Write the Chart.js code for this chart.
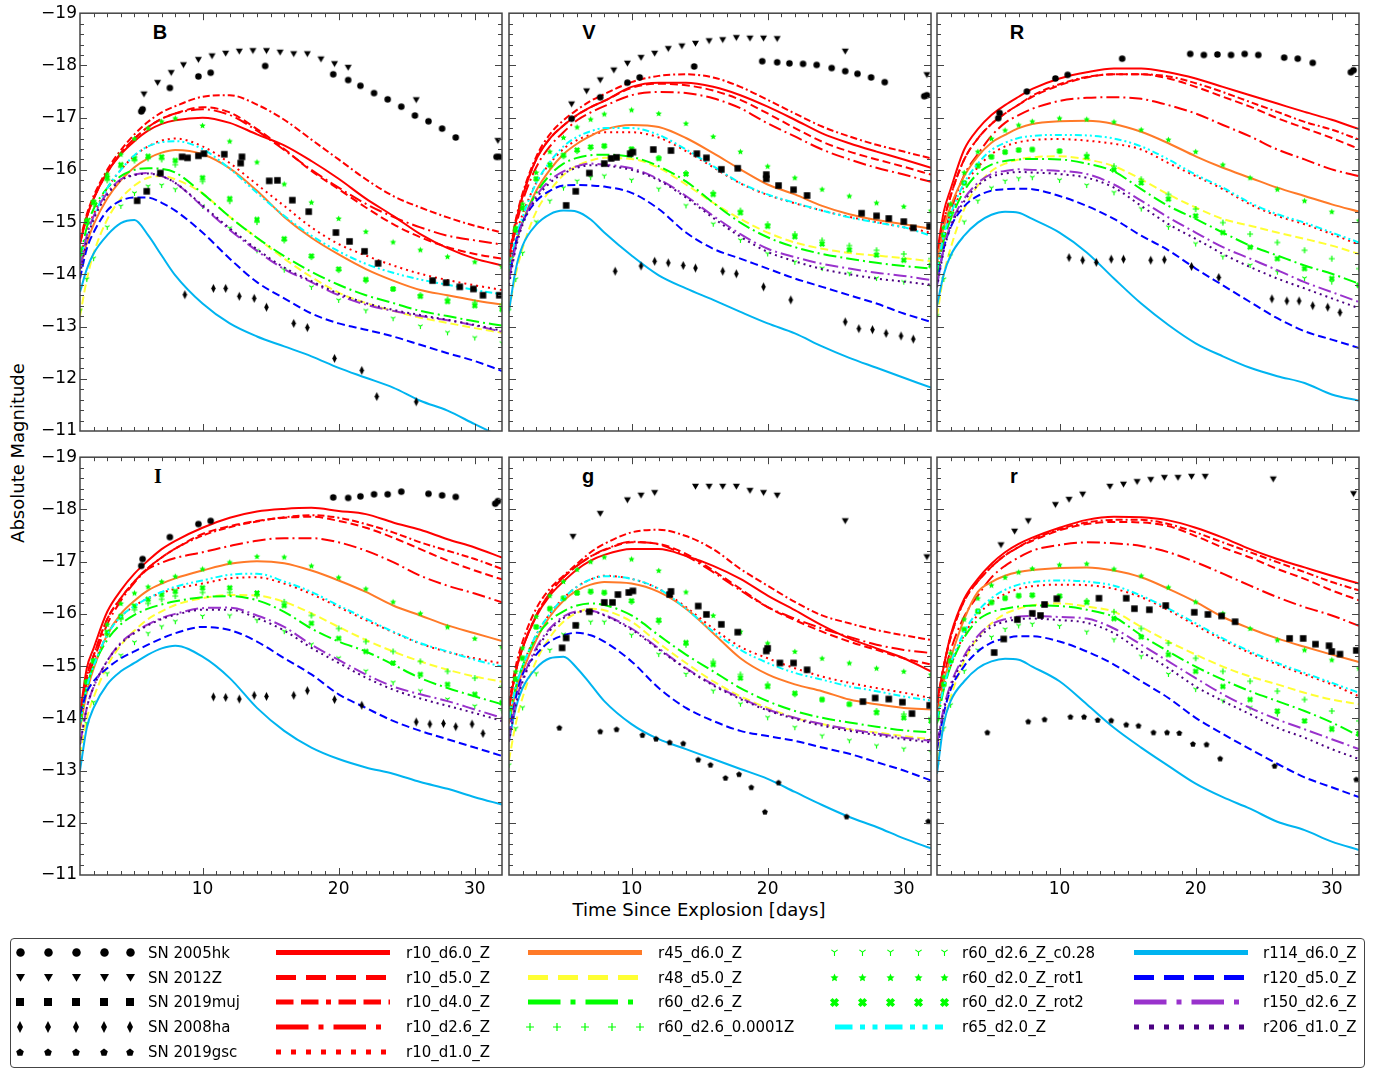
<!DOCTYPE html>
<html>
<head>
<meta charset="utf-8">
<script src="https://cdn.jsdelivr.net/npm/chart.js@4.4.1/dist/chart.umd.min.js"></script>
<style>
  html, body { margin: 0; padding: 0; background: #fff; }
  body { width: 1389px; height: 1072px; position: relative; overflow: hidden; font-family: "DejaVu Sans", sans-serif; color: #000; }
  canvas.panel { position: absolute; }
  .band { position: absolute; font: bold 20px "Liberation Sans", Arial, sans-serif; line-height: 20px; transform: translateX(-50%); }
  .band.serif { font-family: "Liberation Serif", "Times New Roman", serif; }
  .ytitle { position: absolute; left: 18px; top: 453px; font-size: 18px; line-height: 18px; white-space: nowrap; transform: translate(-50%, -50%) rotate(-90deg); }
  .xtitle { position: absolute; left: 699px; top: 901px; font-size: 18px; line-height: 18px; white-space: nowrap; transform: translateX(-50%); }
  .legbox { position: absolute; left: 10px; top: 938px; width: 1353px; height: 128px; border: 1.5px solid #444; border-radius: 4px; }
  .lg { position: absolute; font-size: 15px; line-height: 18px; white-space: nowrap; }
  #legendCanvas { position: absolute; left: 0; top: 930px; }
</style>
</head>
<body>

<div class="band" style="left:160px;top:22px">B</div>
<div class="band" style="left:589px;top:22px">V</div>
<div class="band" style="left:1017px;top:22px">R</div>
<div class="band serif" style="left:158px;top:466px">I</div>
<div class="band" style="left:588px;top:466px">g</div>
<div class="band" style="left:1014px;top:466px">r</div>
<div class="ytitle">Absolute Magnitude</div>
<div class="xtitle">Time Since Explosion [days]</div>
<div class="legbox"></div>
<canvas id="legendCanvas" width="1389" height="142"></canvas>

<script>
// Model epochs (days since explosion) shared by every model light curve
const days = [1, 1.5, 2, 3, 4, 5, 6, 7, 8, 10, 12, 14, 16, 18, 20, 22, 24, 26, 28, 30, 32];

const modelNames = [
  'r10_d6.0_Z', 'r10_d5.0_Z', 'r10_d4.0_Z', 'r10_d2.6_Z', 'r10_d1.0_Z',
  'r45_d6.0_Z', 'r48_d5.0_Z', 'r60_d2.6_Z', 'r60_d2.6_0.0001Z',
  'r60_d2.6_Z_c0.28', 'r60_d2.0_Z_rot1', 'r60_d2.0_Z_rot2', 'r65_d2.0_Z',
  'r114_d6.0_Z', 'r120_d5.0_Z', 'r150_d2.6_Z', 'r206_d1.0_Z'
];

// Absolute magnitudes of each model (rows follow modelNames, columns follow days)
const magB = [
  [-14.6,-15.1,-15.45,-15.95,-16.3,-16.55,-16.75,-16.88,-16.95,-17.0,-16.9,-16.68,-16.47,-16.17,-15.83,-15.45,-15.12,-14.77,-14.5,-14.3,-14.17],
  [-14.6,-15.1,-15.45,-15.95,-16.32,-16.6,-16.82,-16.98,-17.08,-17.2,-17.1,-16.78,-16.4,-15.98,-15.63,-15.28,-14.96,-14.71,-14.52,-14.39,-14.3],
  [-14.65,-15.15,-15.5,-16.0,-16.38,-16.68,-16.92,-17.1,-17.22,-17.4,-17.43,-17.25,-16.96,-16.58,-16.2,-15.82,-15.5,-15.28,-15.09,-14.93,-14.8],
  [-14.6,-15.1,-15.45,-15.95,-16.32,-16.6,-16.82,-16.98,-17.08,-17.16,-17.05,-16.75,-16.38,-16.0,-15.66,-15.35,-15.1,-14.9,-14.74,-14.65,-14.57],
  [-14.3,-14.8,-15.15,-15.65,-16.0,-16.27,-16.45,-16.56,-16.6,-16.45,-16.13,-15.72,-15.31,-14.9,-14.58,-14.36,-14.17,-14.01,-13.89,-13.79,-13.7],
  [-14.1,-14.6,-14.95,-15.45,-15.8,-16.05,-16.22,-16.33,-16.38,-16.3,-16.03,-15.6,-15.1,-14.7,-14.38,-14.1,-13.88,-13.7,-13.6,-13.5,-13.42],
  [-13.2,-13.9,-14.4,-15.05,-15.45,-15.7,-15.85,-15.88,-15.82,-15.55,-15.1,-14.7,-14.3,-13.95,-13.65,-13.45,-13.3,-13.17,-13.07,-12.97,-12.88],
  [-14.3,-14.9,-15.25,-15.65,-15.88,-16.0,-16.03,-16.02,-15.95,-15.55,-15.1,-14.7,-14.35,-14.05,-13.8,-13.6,-13.45,-13.3,-13.2,-13.1,-13.02],
  [-14.4,-15.0,-15.35,-15.8,-16.05,-16.18,-16.22,-16.2,-16.1,-15.78,-15.4,-15.0,-14.65,-14.33,-14.08,-13.88,-13.72,-13.6,-13.52,-13.46,-13.42],
  [-13.3,-13.9,-14.3,-14.9,-15.3,-15.55,-15.68,-15.7,-15.62,-15.3,-14.88,-14.45,-14.08,-13.75,-13.5,-13.3,-13.15,-13.0,-12.88,-12.78,-12.68],
  [-14.5,-15.05,-15.4,-15.92,-16.3,-16.6,-16.8,-16.93,-16.99,-16.85,-16.55,-16.15,-15.73,-15.38,-15.07,-14.82,-14.62,-14.47,-14.34,-14.24,-14.15],
  [-14.4,-15.0,-15.38,-15.85,-16.1,-16.22,-16.26,-16.25,-16.18,-15.85,-15.45,-15.05,-14.68,-14.35,-14.1,-13.9,-13.72,-13.58,-13.48,-13.4,-13.33],
  [-14.2,-14.75,-15.1,-15.65,-16.0,-16.28,-16.45,-16.53,-16.55,-16.4,-16.02,-15.56,-15.12,-14.74,-14.44,-14.2,-14.03,-13.9,-13.8,-13.7,-13.62],
  [-13.66,-14.1,-14.4,-14.75,-14.98,-15.04,-14.75,-14.36,-13.98,-13.44,-13.06,-12.81,-12.62,-12.43,-12.21,-12.02,-11.83,-11.58,-11.39,-11.13,-10.88],
  [-13.92,-14.49,-14.8,-15.22,-15.41,-15.47,-15.47,-15.37,-15.22,-14.8,-14.3,-13.85,-13.54,-13.25,-13.06,-12.94,-12.81,-12.65,-12.49,-12.34,-12.15],
  [-14.1,-14.74,-15.11,-15.56,-15.82,-15.91,-15.94,-15.88,-15.75,-15.3,-14.85,-14.45,-14.1,-13.85,-13.6,-13.42,-13.3,-13.2,-13.12,-13.02,-12.9],
  [-14.0,-14.65,-15.05,-15.52,-15.8,-15.9,-15.93,-15.88,-15.75,-15.32,-14.88,-14.48,-14.13,-13.87,-13.63,-13.45,-13.32,-13.22,-13.13,-13.03,-12.92]
];

const magV = [
  [-14.3,-15.0,-15.5,-16.2,-16.6,-16.85,-17.05,-17.2,-17.32,-17.59,-17.67,-17.67,-17.59,-17.43,-17.21,-16.96,-16.7,-16.51,-16.35,-16.2,-16.04],
  [-14.3,-15.0,-15.5,-16.2,-16.6,-16.85,-17.05,-17.2,-17.32,-17.57,-17.65,-17.62,-17.52,-17.34,-17.08,-16.8,-16.54,-16.35,-16.2,-16.06,-15.91],
  [-14.35,-15.05,-15.55,-16.25,-16.68,-16.95,-17.15,-17.32,-17.45,-17.68,-17.8,-17.83,-17.77,-17.59,-17.34,-17.08,-16.83,-16.64,-16.48,-16.35,-16.22],
  [-14.2,-14.9,-15.4,-16.05,-16.45,-16.72,-16.95,-17.1,-17.22,-17.43,-17.49,-17.47,-17.37,-17.18,-16.89,-16.64,-16.39,-16.2,-16.04,-15.91,-15.77],
  [-14.2,-14.75,-15.15,-15.75,-16.12,-16.4,-16.57,-16.67,-16.72,-16.72,-16.62,-16.36,-16.05,-15.74,-15.52,-15.36,-15.22,-15.1,-15.0,-14.9,-14.8],
  [-14.0,-14.6,-15.0,-15.6,-16.0,-16.3,-16.5,-16.65,-16.77,-16.86,-16.82,-16.61,-16.32,-16.01,-15.72,-15.53,-15.31,-15.15,-15.04,-14.96,-14.87],
  [-13.3,-14.0,-14.5,-15.2,-15.6,-15.9,-16.08,-16.18,-16.23,-16.21,-16.04,-15.72,-15.37,-15.06,-14.8,-14.61,-14.49,-14.41,-14.36,-14.31,-14.25],
  [-14.0,-14.6,-15.0,-15.55,-15.9,-16.12,-16.23,-16.28,-16.29,-16.25,-16.07,-15.78,-15.37,-14.99,-14.71,-14.52,-14.39,-14.3,-14.22,-14.16,-14.11],
  [-14.2,-14.85,-15.25,-15.82,-16.07,-16.26,-16.36,-16.42,-16.45,-16.39,-16.23,-15.94,-15.56,-15.22,-14.96,-14.77,-14.65,-14.55,-14.46,-14.39,-14.3],
  [-13.3,-13.9,-14.4,-15.0,-15.4,-15.65,-15.78,-15.85,-15.88,-15.8,-15.63,-15.31,-14.96,-14.65,-14.39,-14.23,-14.11,-14.01,-13.92,-13.85,-13.76],
  [-14.3,-14.9,-15.35,-15.95,-16.35,-16.62,-16.82,-16.97,-17.07,-17.15,-17.08,-16.89,-16.64,-16.35,-16.07,-15.85,-15.63,-15.5,-15.37,-15.3,-15.22],
  [-14.2,-14.85,-15.27,-15.83,-16.1,-16.28,-16.38,-16.44,-16.46,-16.4,-16.22,-15.92,-15.53,-15.18,-14.92,-14.72,-14.58,-14.47,-14.37,-14.27,-14.17],
  [-14.1,-14.7,-15.1,-15.75,-16.15,-16.45,-16.63,-16.74,-16.8,-16.8,-16.67,-16.39,-16.07,-15.75,-15.53,-15.37,-15.22,-15.09,-14.99,-14.9,-14.74],
  [-13.3,-14.1,-14.55,-14.95,-15.15,-15.22,-15.2,-15.05,-14.8,-14.36,-13.98,-13.73,-13.51,-13.28,-13.06,-12.87,-12.62,-12.4,-12.21,-12.02,-11.83],
  [-13.9,-14.6,-15.0,-15.4,-15.6,-15.7,-15.71,-15.7,-15.68,-15.56,-15.25,-14.8,-14.49,-14.3,-14.11,-13.92,-13.76,-13.6,-13.44,-13.25,-13.09],
  [-13.9,-14.55,-15.0,-15.5,-15.8,-15.97,-16.07,-16.12,-16.1,-16.03,-15.82,-15.5,-15.12,-14.77,-14.49,-14.33,-14.2,-14.11,-14.03,-13.97,-13.89],
  [-13.8,-14.5,-14.95,-15.45,-15.75,-15.93,-16.04,-16.09,-16.08,-16.0,-15.8,-15.47,-15.08,-14.72,-14.43,-14.25,-14.1,-14.0,-13.92,-13.86,-13.8]
];

const magR = [
  [-14.4,-15.2,-15.63,-16.39,-16.78,-17.05,-17.24,-17.4,-17.55,-17.75,-17.87,-17.94,-17.94,-17.87,-17.75,-17.59,-17.43,-17.27,-17.11,-16.96,-16.78],
  [-14.3,-15.0,-15.5,-16.2,-16.6,-16.88,-17.08,-17.25,-17.4,-17.62,-17.77,-17.83,-17.83,-17.75,-17.59,-17.4,-17.21,-16.99,-16.8,-16.61,-16.4],
  [-14.3,-15.0,-15.5,-16.2,-16.6,-16.88,-17.08,-17.25,-17.42,-17.64,-17.78,-17.83,-17.83,-17.79,-17.66,-17.49,-17.3,-17.11,-16.92,-16.77,-16.58],
  [-14.0,-14.7,-15.2,-15.9,-16.3,-16.65,-16.9,-17.05,-17.17,-17.32,-17.38,-17.39,-17.36,-17.24,-17.08,-16.86,-16.64,-16.39,-16.2,-16.01,-15.88],
  [-14.1,-14.7,-15.1,-15.7,-16.05,-16.3,-16.45,-16.53,-16.57,-16.59,-16.56,-16.5,-16.39,-16.13,-15.88,-15.63,-15.34,-15.12,-14.96,-14.77,-14.57],
  [-14.2,-14.9,-15.3,-15.88,-16.26,-16.52,-16.67,-16.8,-16.88,-16.93,-16.94,-16.88,-16.73,-16.51,-16.26,-16.04,-15.85,-15.66,-15.5,-15.34,-15.2],
  [-13.2,-14.0,-14.5,-15.25,-15.7,-15.98,-16.12,-16.2,-16.24,-16.26,-16.2,-16.07,-15.82,-15.53,-15.28,-15.06,-14.93,-14.8,-14.68,-14.55,-14.39],
  [-14.0,-14.65,-15.05,-15.6,-15.93,-16.1,-16.17,-16.2,-16.21,-16.2,-16.12,-15.97,-15.63,-15.31,-15.06,-14.8,-14.55,-14.36,-14.17,-14.01,-13.82],
  [-14.1,-14.75,-15.15,-15.75,-16.08,-16.25,-16.34,-16.38,-16.39,-16.36,-16.29,-16.07,-15.82,-15.53,-15.25,-14.99,-14.77,-14.61,-14.46,-14.3,-14.11],
  [-13.2,-13.9,-14.35,-15.0,-15.4,-15.65,-15.78,-15.83,-15.85,-15.8,-15.7,-15.56,-15.25,-14.9,-14.58,-14.33,-14.17,-14.04,-13.92,-13.85,-13.79],
  [-14.2,-14.9,-15.35,-15.95,-16.35,-16.6,-16.76,-16.86,-16.93,-16.99,-16.97,-16.92,-16.77,-16.58,-16.35,-16.1,-15.85,-15.63,-15.41,-15.2,-15.03],
  [-14.1,-14.75,-15.15,-15.75,-16.08,-16.25,-16.34,-16.38,-16.39,-16.36,-16.25,-16.0,-15.75,-15.44,-15.12,-14.8,-14.52,-14.3,-14.11,-13.92,-13.79],
  [-14.1,-14.75,-15.15,-15.75,-16.12,-16.38,-16.52,-16.61,-16.65,-16.67,-16.66,-16.6,-16.45,-16.2,-15.91,-15.66,-15.37,-15.15,-14.99,-14.8,-14.61],
  [-13.4,-14.0,-14.36,-14.74,-14.99,-15.14,-15.2,-15.18,-15.06,-14.8,-14.42,-13.92,-13.44,-13.03,-12.68,-12.43,-12.21,-12.05,-11.92,-11.7,-11.58],
  [-13.8,-14.5,-14.9,-15.3,-15.5,-15.6,-15.63,-15.64,-15.63,-15.5,-15.31,-15.06,-14.74,-14.46,-14.11,-13.79,-13.47,-13.16,-12.91,-12.75,-12.59],
  [-13.8,-14.5,-14.95,-15.45,-15.75,-15.92,-15.98,-16.01,-16.0,-15.98,-15.92,-15.72,-15.41,-15.09,-14.8,-14.52,-14.3,-14.08,-13.85,-13.66,-13.47],
  [-13.75,-14.45,-14.9,-15.4,-15.7,-15.87,-15.93,-15.96,-15.95,-15.92,-15.85,-15.66,-15.31,-14.96,-14.68,-14.39,-14.14,-13.92,-13.73,-13.54,-13.35]
];

const magI = [
  [-14.08,-14.96,-15.34,-16.04,-16.45,-16.77,-17.02,-17.24,-17.4,-17.65,-17.84,-17.96,-18.01,-18.03,-17.97,-17.91,-17.75,-17.61,-17.43,-17.27,-17.08],
  [-14.0,-14.8,-15.2,-15.9,-16.3,-16.62,-16.88,-17.08,-17.25,-17.53,-17.68,-17.78,-17.84,-17.86,-17.78,-17.65,-17.46,-17.24,-17.02,-16.83,-16.66],
  [-14.0,-14.8,-15.2,-15.9,-16.3,-16.62,-16.88,-17.08,-17.25,-17.5,-17.66,-17.77,-17.85,-17.89,-17.84,-17.72,-17.56,-17.37,-17.21,-17.05,-16.86],
  [-14.0,-14.7,-15.1,-15.8,-16.25,-16.6,-16.86,-16.98,-17.07,-17.18,-17.3,-17.4,-17.45,-17.45,-17.37,-17.21,-16.99,-16.73,-16.54,-16.39,-16.22],
  [-13.9,-14.55,-15.0,-15.6,-15.95,-16.15,-16.3,-16.4,-16.48,-16.58,-16.68,-16.7,-16.58,-16.38,-16.13,-15.88,-15.65,-15.43,-15.27,-15.15,-15.05],
  [-13.8,-14.5,-14.95,-15.6,-16.0,-16.25,-16.45,-16.58,-16.68,-16.83,-16.96,-17.01,-16.97,-16.83,-16.64,-16.42,-16.16,-15.97,-15.78,-15.63,-15.48],
  [-13.3,-14.0,-14.4,-15.0,-15.4,-15.68,-15.9,-16.05,-16.17,-16.3,-16.36,-16.35,-16.23,-16.01,-15.75,-15.5,-15.28,-15.09,-14.93,-14.8,-14.7],
  [-13.9,-14.6,-15.0,-15.5,-15.8,-15.98,-16.1,-16.18,-16.24,-16.32,-16.34,-16.26,-16.04,-15.72,-15.47,-15.28,-15.03,-14.77,-14.58,-14.42,-14.27],
  [-14.0,-14.7,-15.1,-15.6,-15.9,-16.08,-16.2,-16.28,-16.34,-16.41,-16.41,-16.35,-16.23,-15.97,-15.72,-15.47,-15.28,-15.09,-14.9,-14.77,-14.61],
  [-13.2,-13.9,-14.3,-14.85,-15.2,-15.45,-15.62,-15.75,-15.85,-15.95,-15.96,-15.87,-15.66,-15.41,-15.15,-14.9,-14.68,-14.52,-14.36,-14.23,-14.14],
  [-14.0,-14.7,-15.1,-15.8,-16.2,-16.4,-16.52,-16.62,-16.72,-16.86,-16.99,-17.1,-17.09,-16.92,-16.7,-16.48,-16.23,-16.01,-15.75,-15.53,-15.37],
  [-14.0,-14.7,-15.1,-15.65,-15.95,-16.15,-16.28,-16.37,-16.43,-16.5,-16.5,-16.4,-16.16,-15.82,-15.53,-15.28,-15.06,-14.84,-14.65,-14.46,-14.3],
  [-13.9,-14.6,-15.0,-15.6,-15.95,-16.15,-16.3,-16.42,-16.52,-16.64,-16.75,-16.77,-16.62,-16.42,-16.16,-15.91,-15.66,-15.44,-15.28,-15.12,-14.99],
  [-13.0,-13.82,-14.2,-14.65,-14.9,-15.06,-15.22,-15.34,-15.39,-15.18,-14.77,-14.2,-13.76,-13.44,-13.22,-13.06,-12.94,-12.78,-12.65,-12.49,-12.35],
  [-14.08,-14.5,-14.71,-14.96,-15.15,-15.28,-15.41,-15.53,-15.63,-15.75,-15.69,-15.47,-15.15,-14.84,-14.46,-14.2,-13.95,-13.76,-13.6,-13.44,-13.28],
  [-13.5,-14.2,-14.6,-15.1,-15.45,-15.65,-15.8,-15.92,-16.0,-16.11,-16.12,-15.97,-15.75,-15.41,-15.12,-14.84,-14.61,-14.46,-14.33,-14.17,-14.01],
  [-13.5,-14.2,-14.6,-15.1,-15.43,-15.63,-15.78,-15.9,-15.98,-16.08,-16.08,-15.92,-15.68,-15.35,-15.06,-14.78,-14.55,-14.38,-14.24,-14.1,-13.95]
];

const mag_g = [
  [-14.2,-14.9,-15.35,-15.95,-16.35,-16.62,-16.85,-17.02,-17.13,-17.24,-17.24,-17.11,-16.92,-16.67,-16.35,-16.07,-15.78,-15.53,-15.34,-15.15,-14.9],
  [-14.2,-14.9,-15.35,-15.97,-16.4,-16.7,-16.92,-17.1,-17.22,-17.37,-17.34,-17.15,-16.83,-16.48,-16.13,-15.88,-15.66,-15.47,-15.31,-15.15,-15.03],
  [-14.3,-15.0,-15.47,-16.1,-16.48,-16.73,-16.96,-17.18,-17.34,-17.56,-17.61,-17.49,-17.24,-16.86,-16.54,-16.23,-15.97,-15.82,-15.69,-15.59,-15.5],
  [-14.2,-14.9,-15.35,-15.97,-16.4,-16.7,-16.92,-17.1,-17.23,-17.38,-17.33,-17.11,-16.8,-16.45,-16.13,-15.91,-15.72,-15.56,-15.41,-15.31,-15.25],
  [-14.0,-14.6,-15.0,-15.6,-16.0,-16.3,-16.52,-16.66,-16.73,-16.67,-16.48,-16.13,-15.72,-15.37,-15.15,-14.96,-14.8,-14.68,-14.58,-14.49,-14.39],
  [-13.9,-14.5,-14.9,-15.5,-15.95,-16.25,-16.45,-16.56,-16.61,-16.58,-16.42,-16.1,-15.63,-15.15,-14.84,-14.65,-14.52,-14.36,-14.27,-14.2,-14.17],
  [-13.2,-13.9,-14.4,-15.1,-15.55,-15.85,-16.02,-16.1,-16.07,-15.85,-15.44,-15.06,-14.71,-14.42,-14.2,-14.01,-13.89,-13.79,-13.73,-13.66,-13.6],
  [-14.0,-14.6,-15.0,-15.55,-15.87,-16.05,-16.16,-16.2,-16.17,-15.97,-15.59,-15.22,-14.9,-14.58,-14.33,-14.14,-14.01,-13.92,-13.84,-13.77,-13.73],
  [-14.1,-14.75,-15.15,-15.75,-16.1,-16.3,-16.4,-16.42,-16.4,-16.23,-15.85,-15.41,-15.09,-14.84,-14.65,-14.46,-14.36,-14.27,-14.14,-14.08,-14.01],
  [-13.1,-13.8,-14.2,-14.85,-15.3,-15.6,-15.77,-15.84,-15.84,-15.59,-15.22,-14.84,-14.52,-14.27,-14.01,-13.82,-13.66,-13.57,-13.47,-13.41,-13.35],
  [-14.2,-14.9,-15.35,-15.95,-16.35,-16.62,-16.85,-17.0,-17.09,-17.05,-16.83,-16.42,-15.97,-15.66,-15.44,-15.28,-15.15,-15.06,-14.96,-14.9,-14.84],
  [-14.1,-14.75,-15.15,-15.75,-16.1,-16.3,-16.4,-16.43,-16.41,-16.25,-15.88,-15.45,-15.03,-14.77,-14.61,-14.48,-14.36,-14.27,-14.11,-14.01,-13.95],
  [-14.0,-14.6,-15.0,-15.6,-16.0,-16.3,-16.52,-16.66,-16.72,-16.67,-16.48,-16.1,-15.66,-15.31,-15.06,-14.87,-14.74,-14.61,-14.52,-14.42,-14.34],
  [-13.57,-14.2,-14.58,-14.96,-15.15,-15.18,-14.96,-14.65,-14.33,-13.89,-13.6,-13.41,-13.22,-13.03,-12.84,-12.59,-12.34,-12.11,-11.92,-11.7,-11.51],
  [-13.7,-14.39,-14.84,-15.22,-15.47,-15.59,-15.64,-15.59,-15.47,-15.09,-14.58,-14.2,-13.95,-13.76,-13.66,-13.57,-13.44,-13.32,-13.16,-13.0,-12.81],
  [-13.6,-14.3,-14.75,-15.35,-15.72,-15.95,-16.05,-16.06,-15.98,-15.72,-15.34,-14.96,-14.65,-14.39,-14.17,-14.01,-13.89,-13.79,-13.71,-13.63,-13.57],
  [-13.55,-14.25,-14.7,-15.3,-15.68,-15.92,-16.03,-16.05,-15.97,-15.7,-15.32,-14.95,-14.63,-14.37,-14.15,-13.99,-13.86,-13.76,-13.68,-13.6,-13.54]
];

const mag_r = [
  [-14.3,-15.0,-15.59,-16.29,-16.67,-16.96,-17.18,-17.34,-17.46,-17.65,-17.8,-17.86,-17.85,-17.79,-17.65,-17.46,-17.24,-17.05,-16.89,-16.73,-16.58],
  [-14.3,-15.0,-15.55,-16.25,-16.62,-16.9,-17.12,-17.28,-17.4,-17.6,-17.72,-17.76,-17.75,-17.68,-17.49,-17.27,-17.08,-16.86,-16.67,-16.45,-16.26],
  [-14.3,-15.0,-15.55,-16.25,-16.62,-16.9,-17.12,-17.28,-17.42,-17.62,-17.75,-17.8,-17.8,-17.72,-17.56,-17.37,-17.18,-16.99,-16.8,-16.61,-16.45],
  [-14.1,-14.8,-15.3,-15.95,-16.35,-16.7,-16.92,-17.08,-17.21,-17.32,-17.37,-17.35,-17.3,-17.18,-16.99,-16.77,-16.54,-16.32,-16.13,-15.97,-15.77],
  [-14.0,-14.6,-15.0,-15.6,-15.98,-16.22,-16.38,-16.48,-16.53,-16.56,-16.55,-16.48,-16.32,-16.07,-15.78,-15.5,-15.25,-15.03,-14.84,-14.65,-14.42],
  [-14.0,-14.7,-15.15,-15.9,-16.42,-16.61,-16.73,-16.8,-16.84,-16.88,-16.89,-16.83,-16.7,-16.48,-16.23,-15.94,-15.72,-15.53,-15.37,-15.22,-15.08],
  [-13.2,-13.9,-14.4,-15.1,-15.55,-15.82,-16.0,-16.1,-16.16,-16.2,-16.14,-16.04,-15.75,-15.47,-15.22,-14.99,-14.8,-14.65,-14.49,-14.36,-14.27],
  [-13.9,-14.55,-15.0,-15.55,-15.88,-16.03,-16.1,-16.14,-16.16,-16.15,-16.08,-15.94,-15.59,-15.28,-14.99,-14.74,-14.52,-14.33,-14.14,-13.92,-13.66],
  [-14.0,-14.65,-15.1,-15.7,-16.05,-16.22,-16.3,-16.34,-16.35,-16.33,-16.25,-16.04,-15.72,-15.44,-15.15,-14.9,-14.71,-14.52,-14.36,-14.14,-13.95],
  [-13.1,-13.8,-14.25,-14.9,-15.3,-15.55,-15.7,-15.77,-15.8,-15.76,-15.65,-15.5,-15.18,-14.84,-14.55,-14.33,-14.2,-14.08,-13.95,-13.82,-13.73],
  [-14.1,-14.8,-15.25,-15.9,-16.3,-16.55,-16.7,-16.8,-16.87,-16.94,-16.96,-16.86,-16.73,-16.51,-16.23,-16.01,-15.72,-15.5,-15.31,-15.12,-14.96],
  [-14.0,-14.65,-15.1,-15.7,-16.05,-16.22,-16.3,-16.35,-16.36,-16.34,-16.22,-15.91,-15.56,-15.22,-14.9,-14.61,-14.36,-14.14,-13.95,-13.79,-13.7],
  [-14.0,-14.6,-15.05,-15.65,-16.05,-16.3,-16.46,-16.56,-16.61,-16.64,-16.62,-16.54,-16.35,-16.1,-15.82,-15.53,-15.28,-15.06,-14.87,-14.68,-14.49],
  [-12.94,-13.9,-14.33,-14.71,-14.96,-15.09,-15.14,-15.12,-14.99,-14.71,-14.27,-13.82,-13.44,-13.09,-12.75,-12.49,-12.27,-12.02,-11.86,-11.64,-11.48],
  [-13.4,-14.1,-14.55,-15.0,-15.28,-15.45,-15.53,-15.57,-15.57,-15.47,-15.28,-15.03,-14.71,-14.39,-14.01,-13.7,-13.41,-13.13,-12.87,-12.68,-12.49],
  [-13.5,-14.2,-14.65,-15.2,-15.58,-15.8,-15.9,-15.95,-15.96,-15.94,-15.91,-15.72,-15.41,-15.09,-14.77,-14.46,-14.2,-13.98,-13.79,-13.6,-13.41],
  [-13.45,-14.15,-14.6,-15.15,-15.52,-15.75,-15.85,-15.9,-15.91,-15.88,-15.83,-15.63,-15.28,-14.96,-14.61,-14.33,-14.08,-13.82,-13.63,-13.41,-13.22]
];

// Observed supernovae: [day, absolute magnitude]
const sn2005hk_B = [[5.5,-17.12],[5.6,-17.16],[7.6,-17.57],[9.7,-17.79],[10.6,-17.86],[14.6,-17.99],[19.6,-17.83],[20.7,-17.72],[21.6,-17.61],[22.6,-17.47],[23.6,-17.35],[24.6,-17.21],[25.6,-17.04],[26.6,-16.93],[27.6,-16.79],[28.6,-16.62],[31.6,-16.25],[31.8,-16.25]];
const sn2005hk_V = [[5.6,-16.98],[7.7,-17.39],[9.7,-17.67],[10.6,-17.77],[14.6,-17.98],[19.6,-18.08],[20.7,-18.06],[21.6,-18.04],[22.6,-18.03],[23.6,-18.01],[24.7,-17.95],[25.7,-17.89],[26.6,-17.84],[27.6,-17.77],[28.6,-17.68],[31.5,-17.41],[31.7,-17.43]];
const sn2005hk_R = [[5.5,-16.99],[5.6,-17.09],[7.6,-17.5],[9.7,-17.75],[10.6,-17.82],[14.6,-18.13],[19.6,-18.22],[20.6,-18.2],[21.6,-18.21],[22.6,-18.2],[23.6,-18.22],[24.6,-18.2],[26.5,-18.15],[27.5,-18.13],[28.6,-18.05],[31.4,-17.87],[31.6,-17.91]];
const sn2005hk_I = [[5.5,-16.92],[5.6,-17.05],[7.6,-17.47],[9.7,-17.72],[10.6,-17.78],[19.6,-18.23],[20.7,-18.22],[21.6,-18.25],[22.6,-18.29],[23.6,-18.29],[24.6,-18.34],[26.6,-18.3],[27.6,-18.27],[28.6,-18.24],[31.5,-18.11],[31.7,-18.16]];

const sn2012Z_B = [[5.7,-17.45],[6.7,-17.67],[7.7,-17.86],[8.6,-18.01],[9.7,-18.11],[10.7,-18.18],[11.7,-18.23],[12.7,-18.27],[13.7,-18.28],[14.7,-18.28],[15.7,-18.25],[16.7,-18.22],[17.7,-18.22],[18.7,-18.12],[19.7,-18.03],[20.7,-17.96],[25.7,-17.34],[31.7,-16.56]];
const sn2012Z_V = [[5.6,-17.26],[6.7,-17.51],[7.7,-17.72],[8.7,-17.91],[9.7,-18.04],[10.7,-18.15],[11.7,-18.23],[12.7,-18.32],[13.7,-18.37],[14.7,-18.42],[15.7,-18.47],[16.7,-18.49],[17.7,-18.53],[18.7,-18.52],[19.7,-18.52],[20.7,-18.51],[25.7,-18.27],[31.7,-17.82]];
const sn2012Z_g = [[5.7,-17.48],[7.7,-17.92],[9.7,-18.18],[10.7,-18.27],[11.7,-18.32],[14.7,-18.44],[15.7,-18.44],[16.7,-18.44],[17.7,-18.44],[18.7,-18.36],[19.7,-18.32],[20.7,-18.27],[25.7,-17.78],[31.7,-17.09]];
const sn2012Z_r = [[5.7,-17.32],[6.7,-17.58],[7.7,-17.78],[9.7,-18.09],[10.7,-18.19],[11.7,-18.29],[13.7,-18.44],[14.7,-18.48],[15.7,-18.53],[16.7,-18.57],[17.7,-18.61],[18.7,-18.61],[19.7,-18.63],[20.7,-18.63],[25.7,-18.58],[31.6,-18.3]];

const sn2019muj_B = [[5.2,-15.41],[5.9,-15.59],[6.9,-15.94],[8.5,-16.25],[8.9,-16.23],[9.7,-16.27],[10.1,-16.31],[11.6,-16.3],[12.8,-16.13],[12.9,-16.25],[14.9,-15.79],[15.5,-15.8],[16.6,-15.42],[17.8,-15.2],[19.8,-14.8],[20.8,-14.63],[21.9,-14.44],[22.9,-14.21],[26.9,-13.88],[27.9,-13.84],[28.9,-13.76],[29.9,-13.72],[30.6,-13.6],[31.8,-13.6]];
const sn2019muj_V = [[5.2,-15.32],[5.9,-15.59],[6.9,-15.94],[8.0,-16.12],[8.5,-16.22],[8.9,-16.24],[9.9,-16.31],[10.1,-16.34],[11.6,-16.39],[12.9,-16.37],[14.8,-16.31],[15.5,-16.23],[16.6,-16.01],[17.8,-16.03],[19.9,-15.91],[19.9,-15.83],[20.8,-15.7],[21.9,-15.62],[22.9,-15.51],[26.9,-15.17],[28.0,-15.12],[28.9,-15.07],[30.0,-15.01],[30.7,-14.89],[31.9,-14.92]];
const sn2019muj_g = [[4.9,-15.35],[5.2,-15.54],[5.9,-15.78],[6.9,-16.04],[8.0,-16.22],[8.6,-16.22],[9.0,-16.37],[9.8,-16.41],[10.1,-16.44],[12.8,-16.37],[12.9,-16.43],[14.9,-16.15],[15.5,-15.99],[16.6,-15.8],[17.8,-15.65],[19.9,-15.29],[20.0,-15.34],[20.9,-15.06],[21.9,-15.06],[22.9,-14.93],[27.0,-14.32],[27.9,-14.39],[28.9,-14.37],[29.9,-14.31],[30.6,-14.09],[31.9,-14.25]];
const sn2019muj_r = [[5.2,-15.26],[5.9,-15.52],[6.9,-15.89],[8.0,-16.01],[8.6,-15.97],[8.9,-16.18],[9.8,-16.29],[12.9,-16.3],[14.9,-16.3],[15.5,-16.1],[16.6,-16.08],[17.8,-16.16],[19.9,-16.03],[20.9,-15.99],[21.9,-15.96],[22.9,-15.85],[26.9,-15.53],[27.9,-15.53],[28.8,-15.42],[29.8,-15.39],[30.0,-15.28],[30.6,-15.23],[31.8,-15.3]];

const sn2008ha_B = [[8.7,-13.61],[10.8,-13.73],[11.7,-13.73],[12.7,-13.58],[13.8,-13.54],[14.7,-13.37],[16.7,-13.06],[17.7,-12.98],[19.7,-12.39],[21.7,-12.16],[22.8,-11.66],[25.7,-11.56]];
const sn2008ha_V = [[8.8,-14.06],[10.7,-14.16],[11.7,-14.25],[12.7,-14.22],[13.8,-14.17],[14.7,-14.12],[16.7,-14.06],[17.7,-14.01],[19.7,-13.76],[21.7,-13.51],[25.7,-13.09],[26.7,-12.96],[27.7,-12.94],[28.7,-12.87],[29.8,-12.82],[30.7,-12.76]];
const sn2008ha_R = [[10.7,-14.32],[11.7,-14.27],[12.7,-14.23],[13.8,-14.29],[14.7,-14.29],[16.7,-14.27],[17.7,-14.28],[19.7,-14.15],[21.7,-13.94],[25.6,-13.53],[26.7,-13.49],[27.6,-13.49],[28.6,-13.4],[29.7,-13.37],[30.6,-13.27]];
const sn2008ha_I = [[10.8,-14.41],[11.7,-14.4],[12.7,-14.37],[13.8,-14.44],[14.7,-14.42],[16.7,-14.44],[17.7,-14.53],[19.7,-14.36],[21.7,-14.25],[25.7,-13.93],[26.7,-13.89],[27.7,-13.9],[28.6,-13.84],[29.8,-13.89],[30.6,-13.71]];

const sn2019gsc_g = [[4.7,-13.82],[7.7,-13.75],[8.9,-13.79],[10.8,-13.68],[11.8,-13.61],[12.8,-13.54],[13.8,-13.52],[14.9,-13.21],[15.8,-13.11],[16.9,-12.86],[17.9,-12.93],[18.8,-12.68],[19.8,-12.21],[20.8,-12.77],[25.8,-12.12],[31.8,-12.03]];
const sn2019gsc_r = [[4.7,-13.73],[7.7,-13.94],[8.9,-13.98],[10.8,-14.03],[11.8,-14.03],[12.8,-13.97],[13.8,-13.96],[14.9,-13.88],[15.8,-13.86],[16.9,-13.73],[17.9,-13.73],[18.8,-13.72],[19.8,-13.51],[20.8,-13.5],[21.8,-13.23],[25.8,-13.09],[31.8,-12.83]];

const snNames = ['SN 2005hk', 'SN 2012Z', 'SN 2019muj', 'SN 2008ha', 'SN 2019gsc'];

const xTickValues = [10, 20, 30];
const yTickValues = [-19, -18, -17, -16, -15, -14, -13, -12, -11];

// ---------------------------------------------------------------- markers
function markerCanvas(kind, size, color) {
  const n = Math.ceil(size) + 4;
  const c = document.createElement('canvas');
  c.width = n; c.height = n;
  const g = c.getContext('2d');
  const m = n / 2, r = size / 2;
  g.fillStyle = color; g.strokeStyle = color;
  g.beginPath();
  if (kind === 'circle') {
    g.arc(m, m, r, 0, Math.PI * 2); g.fill();
  } else if (kind === 'square') {
    g.fillRect(m - r, m - r, size, size);
  } else if (kind === 'triDown') {
    g.moveTo(m - r, m - r * 0.8); g.lineTo(m + r, m - r * 0.8); g.lineTo(m, m + r * 0.95); g.closePath(); g.fill();
  } else if (kind === 'thinDiamond') {
    g.moveTo(m, m - r); g.lineTo(m + r * 0.5, m); g.lineTo(m, m + r); g.lineTo(m - r * 0.5, m); g.closePath(); g.fill();
  } else if (kind === 'pentagon') {
    for (let k = 0; k < 5; k++) {
      const a = -Math.PI / 2 + k * 2 * Math.PI / 5;
      const px = m + r * Math.cos(a), py = m + r * Math.sin(a) + r * 0.1;
      if (k) g.lineTo(px, py); else g.moveTo(px, py);
    }
    g.closePath(); g.fill();
  } else if (kind === 'star') {
    for (let k = 0; k < 10; k++) {
      const a = -Math.PI / 2 + k * Math.PI / 5;
      const rr = k % 2 ? r * 0.48 : r;
      const px = m + rr * Math.cos(a), py = m + rr * Math.sin(a) + r * 0.08;
      if (k) g.lineTo(px, py); else g.moveTo(px, py);
    }
    g.closePath(); g.fill();
  } else if (kind === 'plus') {
    g.lineWidth = 1.2;
    g.moveTo(m - r, m); g.lineTo(m + r, m); g.moveTo(m, m - r); g.lineTo(m, m + r); g.stroke();
  } else if (kind === 'tri') {
    g.lineWidth = 1.1;
    const cy = m - r * 0.1;
    g.moveTo(m, cy); g.lineTo(m - r * 0.9, m - r * 0.75);
    g.moveTo(m, cy); g.lineTo(m + r * 0.9, m - r * 0.75);
    g.moveTo(m, cy); g.lineTo(m, m + r);
    g.stroke();
  } else if (kind === 'xfat') {
    g.lineWidth = size * 0.42; g.lineCap = 'butt';
    const d = r * 0.72;
    g.moveTo(m - d, m - d); g.lineTo(m + d, m + d); g.moveTo(m + d, m - d); g.lineTo(m - d, m + d); g.stroke();
  }
  return c;
}

const GREEN = '#00ff00';
const modelStyle = [
  { color: '#ff0000', dash: [] },
  { color: '#ff0000', dash: [8, 4] },
  { color: '#ff0000', dash: [7, 3, 7, 3, 2, 3] },
  { color: '#ff0000', dash: [13, 4, 2, 4] },
  { color: '#ff0000', dash: [2, 4] },
  { color: '#ff7a28', dash: [] },
  { color: '#ffff33', dash: [8, 4] },
  { color: GREEN, dash: [13, 4, 2, 4] },
  { color: GREEN, marker: 'plus', size: 6, legendSize: 8 },
  { color: GREEN, marker: 'tri', size: 5, legendSize: 7 },
  { color: GREEN, marker: 'star', size: 6.5, legendSize: 8.5 },
  { color: GREEN, marker: 'xfat', size: 6, legendSize: 9 },
  { color: '#00ffff', dash: [7, 3, 2, 3, 2, 3] },
  { color: '#00b4f0', dash: [] },
  { color: '#0000ff', dash: [8, 4] },
  { color: '#9932cc', dash: [13, 4, 2, 4] },
  { color: '#4b0082', dash: [2, 4] }
];
modelStyle.forEach(st => { if (st.marker) st.img = markerCanvas(st.marker, st.size, st.color); });

const snStyle = {
  'SN 2005hk': { kind: 'circle', size: 6.5, legendSize: 8.5 },
  'SN 2012Z': { kind: 'triDown', size: 7, legendSize: 9 },
  'SN 2019muj': { kind: 'square', size: 6.5, legendSize: 8 },
  'SN 2008ha': { kind: 'thinDiamond', size: 9, legendSize: 12 },
  'SN 2019gsc': { kind: 'pentagon', size: 6, legendSize: 8 }
};
Object.values(snStyle).forEach(s => { s.img = markerCanvas(s.kind, s.size, '#000'); });

// ---------------------------------------------------------------- panels
const PANEL_W = 507, PANEL_H = 466, AXIS_L = 75, PAD_T = 10, PAD_R = 10, AXIS_B = 35;
const colLeft = [80, 509, 937];
const rowTop = [10, 454];

// Frame on all four sides with inward major/minor ticks
const frameTicks = {
  id: 'frameTicks',
  afterDatasetsDraw(chart) {
    const { ctx, chartArea: a, scales: { x, y } } = chart;
    ctx.save();
    ctx.strokeStyle = '#444';
    ctx.lineWidth = 1;
    ctx.beginPath();
    for (let d = 2; d <= 31; d++) {
      const px = Math.round(x.getPixelForValue(d)) + 0.5;
      const len = d % 10 === 0 ? 7 : 4;
      ctx.moveTo(px, a.bottom); ctx.lineTo(px, a.bottom - len);
      ctx.moveTo(px, a.top); ctx.lineTo(px, a.top + len);
    }
    for (let k = 1; k < 40; k++) {
      const v = -19 + k * 0.2;
      const py = Math.round(y.getPixelForValue(v)) + 0.5;
      const len = k % 5 === 0 ? 7 : 4;
      ctx.moveTo(a.left, py); ctx.lineTo(a.left + len, py);
      ctx.moveTo(a.right, py); ctx.lineTo(a.right - len, py);
    }
    ctx.stroke();
    ctx.lineWidth = 1.5;
    ctx.strokeRect(a.left, a.top, a.right - a.left, a.bottom - a.top);
    ctx.restore();
  }
};

function makePanel(mags, observed, col, row) {
  const cv = document.createElement('canvas');
  cv.width = PANEL_W; cv.height = PANEL_H;
  cv.className = 'panel';
  cv.style.left = (colLeft[col] - AXIS_L) + 'px';
  cv.style.top = (rowTop[row] - PAD_T) + 'px';
  document.body.appendChild(cv);

  const datasets = [];
  mags.forEach((vals, i) => {
    const st = modelStyle[i];
    const data = days.map((d, k) => ({ x: d, y: vals[k] }));
    if (st.marker) {
      datasets.push({ label: modelNames[i], data, showLine: false, pointStyle: st.img, pointRadius: 3, order: 100 - i });
    } else {
      datasets.push({
        label: modelNames[i], data, borderColor: st.color, borderWidth: 2, borderDash: st.dash,
        borderCapStyle: 'butt', pointRadius: 0, cubicInterpolationMode: 'monotone', fill: false, order: 100 - i
      });
    }
  });
  observed.forEach(([name, pts]) => {
    datasets.push({
      label: name, data: pts.map(p => ({ x: p[0], y: p[1] })), showLine: false,
      pointStyle: snStyle[name].img, pointRadius: 3, order: -1
    });
  });

  const tickFont = { family: '"DejaVu Sans", sans-serif', size: 17 };
  new Chart(cv, {
    type: 'line',
    data: { datasets },
    options: {
      animation: false, responsive: false, devicePixelRatio: 1, events: [],
      layout: { padding: { top: PAD_T, right: PAD_R, left: 0, bottom: 0 } },
      plugins: { legend: { display: false }, tooltip: { enabled: false } },
      scales: {
        x: {
          type: 'linear', min: 1, max: 32,
          grid: { display: false, drawTicks: false }, border: { display: false },
          ticks: {
            color: '#000', font: tickFont, padding: 4, autoSkip: false, maxRotation: 0,
            callback: v => row === 1 ? String(v) : ''
          },
          afterBuildTicks: s => { s.ticks = xTickValues.map(v => ({ value: v })); },
          afterFit: s => { s.height = AXIS_B; }
        },
        y: {
          type: 'linear', min: -19, max: -11, reverse: true,
          grid: { display: false, drawTicks: false }, border: { display: false },
          ticks: {
            color: '#000', font: tickFont, padding: 3, autoSkip: false,
            callback: v => col === 0 ? '\u2212' + Math.abs(v) : ''
          },
          afterBuildTicks: s => { s.ticks = yTickValues.map(v => ({ value: v })); },
          afterFit: s => { s.width = AXIS_L; }
        }
      }
    },
    plugins: [frameTicks]
  });
}

makePanel(magB, [['SN 2005hk', sn2005hk_B], ['SN 2012Z', sn2012Z_B], ['SN 2019muj', sn2019muj_B], ['SN 2008ha', sn2008ha_B]], 0, 0);
makePanel(magV, [['SN 2005hk', sn2005hk_V], ['SN 2012Z', sn2012Z_V], ['SN 2019muj', sn2019muj_V], ['SN 2008ha', sn2008ha_V]], 1, 0);
makePanel(magR, [['SN 2005hk', sn2005hk_R], ['SN 2008ha', sn2008ha_R]], 2, 0);
makePanel(magI, [['SN 2005hk', sn2005hk_I], ['SN 2008ha', sn2008ha_I]], 0, 1);
makePanel(mag_g, [['SN 2012Z', sn2012Z_g], ['SN 2019muj', sn2019muj_g], ['SN 2019gsc', sn2019gsc_g]], 1, 1);
makePanel(mag_r, [['SN 2012Z', sn2012Z_r], ['SN 2019muj', sn2019muj_r], ['SN 2019gsc', sn2019gsc_r]], 2, 1);

// ---------------------------------------------------------------- legend
(function drawLegend() {
  const lc = document.getElementById('legendCanvas');
  const g = lc.getContext('2d');
  const OY = 930;
  const rowsY = [952.5, 977.5, 1002, 1027, 1052];
  const markerXs = { sn: [20, 48, 76, 104, 130], c3: [530, 557, 585, 612, 640], c4: [834, 862, 890, 918, 944] };

  function label(text, x, y) {
    const el = document.createElement('div');
    el.className = 'lg';
    el.textContent = text;
    el.style.left = x + 'px';
    el.style.top = (y - 9) + 'px';
    document.body.appendChild(el);
  }
  function sampleLine(st, x0, x1, y) {
    g.save();
    g.strokeStyle = st.color; g.lineWidth = 5; g.lineCap = 'butt';
    g.setLineDash(st.dash.map(v => v * 2.5));
    g.beginPath(); g.moveTo(x0, y - OY); g.lineTo(x1, y - OY); g.stroke();
    g.restore();
  }
  function sampleMarkers(img, xs, y) {
    xs.forEach(x => g.drawImage(img, Math.round(x - img.width / 2), Math.round(y - OY - img.height / 2)));
  }

  snNames.forEach((name, i) => {
    const s = snStyle[name];
    sampleMarkers(markerCanvas(s.kind, s.legendSize, '#000'), markerXs.sn, rowsY[i]);
    label(name, 148, rowsY[i]);
  });

  const cols = [
    { items: [0, 1, 2, 3, 4], x0: 276, x1: 390, tx: 406, mk: null },
    { items: [5, 6, 7, 8], x0: 528, x1: 642, tx: 658, mk: markerXs.c3 },
    { items: [9, 10, 11, 12], x0: 835, x1: 943, tx: 962, mk: markerXs.c4 },
    { items: [13, 14, 15, 16], x0: 1134, x1: 1248, tx: 1263, mk: null }
  ];
  cols.forEach(c => {
    c.items.forEach((mi, r) => {
      const st = modelStyle[mi];
      if (st.marker) sampleMarkers(markerCanvas(st.marker, st.legendSize, st.color), c.mk, rowsY[r]);
      else sampleLine(st, c.x0, c.x1, rowsY[r]);
      label(modelNames[mi], c.tx, rowsY[r]);
    });
  });
})();
</script>
</body>
</html>
